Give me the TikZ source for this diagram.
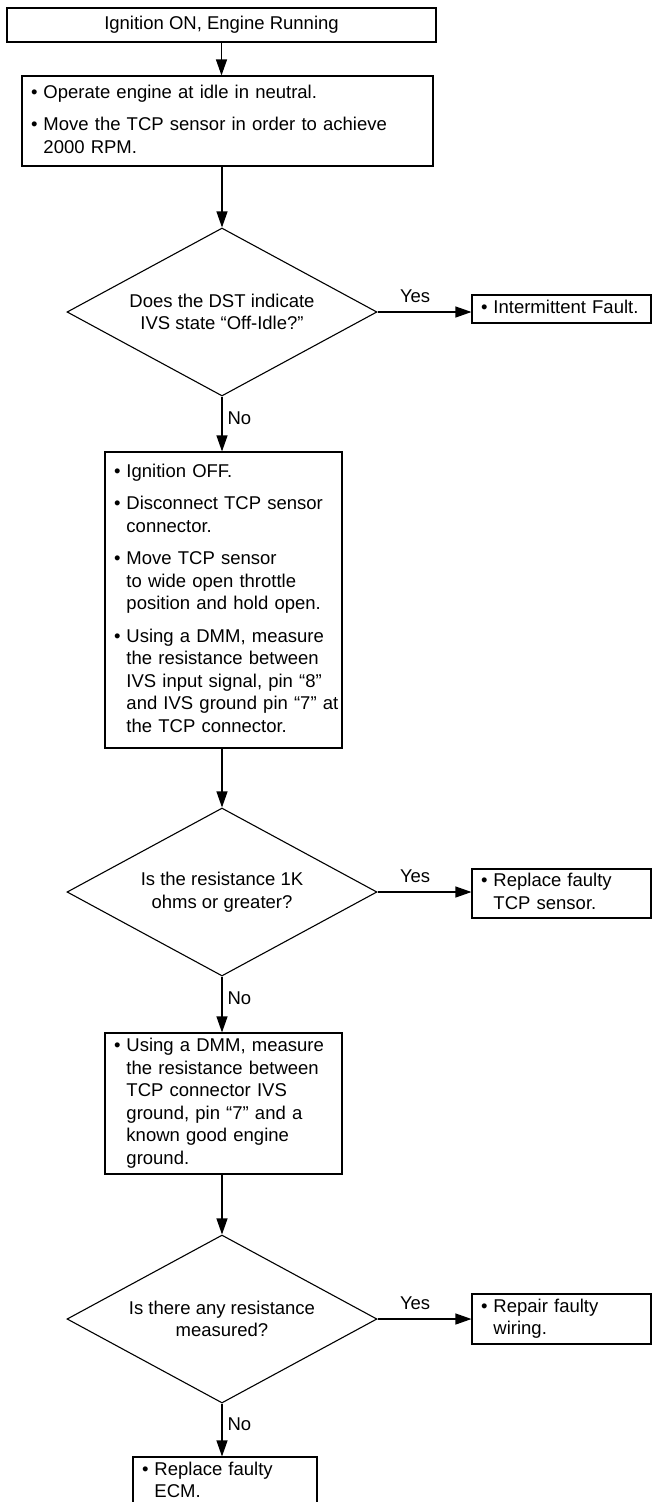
\documentclass[tikz,border=0pt]{standalone}
\usepackage{fontspec}
\setmainfont{Liberation Sans}
\usepackage{tikz}
\usetikzlibrary{arrows.meta,positioning,shapes.geometric}

\newcommand{\itm}{\textbullet}
\newenvironment{itmlist}{\begin{tabular}{@{}l@{\hspace{6pt}}l@{}}}{\end{tabular}}

\begin{document}
\begin{tikzpicture}[
  x=1pt, y=-1pt,
  font=\fontsize{18.5}{22.5}\selectfont,
  stepbox/.style={draw, line width=1.1pt, inner xsep=9pt, inner ysep=0pt, align=left},
  ask/.style={draw, diamond, aspect=1.85, line width=1.1pt, minimum width=310pt, minimum height=168pt, inner sep=0pt, align=center},
  arr/.style={-{Triangle[length=16pt,width=11pt]}, line width=1.1pt},
  yes/.style={pos=0.4, above=9pt, inner sep=0pt},
  no/.style={midway, anchor=base west, xshift=5pt, inner sep=0pt}
]
\useasboundingbox (0,0) rectangle (652,1502);
\clip (0,0) rectangle (652,1502);
\node[stepbox, minimum width=429pt, minimum height=34pt] (start) at (221.5,25) {Ignition ON, Engine Running};
\node[stepbox, text width=393pt, minimum height=90pt] (idle) at (227.5,121)
{\begin{itmlist}\itm & Operate engine at idle in neutral.\\[10pt]
\itm & Move the TCP sensor in order to achieve\\ & 2000 RPM.\end{itmlist}};
\node[ask] (dst) at (222,312) {Does the DST indicate\\IVS state “Off-Idle?”};
\node[stepbox, text width=161pt, minimum height=28pt] (intm) at (561.5,309)
{\begin{itmlist}\itm & Intermittent Fault.\end{itmlist}};
\node[stepbox, text width=219pt, minimum height=296pt] (off) at (223.5,600)
{\begin{itmlist}\itm & Ignition OFF.\\[10pt]
\itm & Disconnect TCP sensor\\ & connector.\\[10pt]
\itm & Move TCP sensor\\ & to wide open throttle\\ & position and hold open.\\[10pt]
\itm & Using a DMM, measure\\ & the resistance between\\ & IVS input signal, pin “8”\\ & and IVS ground pin “7” at\\ & the TCP connector.\end{itmlist}};
\node[ask] (ohms) at (222,892) {Is the resistance 1K\\ohms or greater?};
\node[stepbox, text width=161pt, minimum height=49pt] (sens) at (561.5,893.5)
{\begin{itmlist}\itm & Replace faulty\\ & TCP sensor.\end{itmlist}};
\node[stepbox, text width=219pt, minimum height=141pt] (gnd) at (223.5,1103.5)
{\begin{itmlist}\itm & Using a DMM, measure\\ & the resistance between\\ & TCP connector IVS\\ & ground, pin “7” and a\\ & known good engine\\ & ground.\end{itmlist}};
\node[ask] (meas) at (222,1319) {Is there any resistance\\measured?};
\node[stepbox, text width=161pt, minimum height=50pt] (wire) at (561.5,1319)
{\begin{itmlist}\itm & Repair faulty\\ & wiring.\end{itmlist}};
\node[stepbox, text width=166pt, minimum height=50pt] (ecm) at (225,1482)
{\begin{itmlist}\itm & Replace faulty\\ & ECM.\end{itmlist}};
\draw[arr] (start.south) -- (start.south |- idle.north);
\draw[arr] (idle.south -| dst.north) -- (dst.north);
\draw[arr] (dst.east) -- (dst.east -| intm.west) node[yes] {Yes};
\draw[arr] (dst.south) -- (dst.south |- off.north) node[no] {No};
\draw[arr] (off.south -| ohms.north) -- (ohms.north);
\draw[arr] (ohms.east) -- (ohms.east -| sens.west) node[yes] {Yes};
\draw[arr] (ohms.south) -- (ohms.south |- gnd.north) node[no] {No};
\draw[arr] (gnd.south -| meas.north) -- (meas.north);
\draw[arr] (meas.east) -- (meas.east -| wire.west) node[yes] {Yes};
\draw[arr] (meas.south) -- (meas.south |- ecm.north) node[no] {No};
\end{tikzpicture}
\end{document}
